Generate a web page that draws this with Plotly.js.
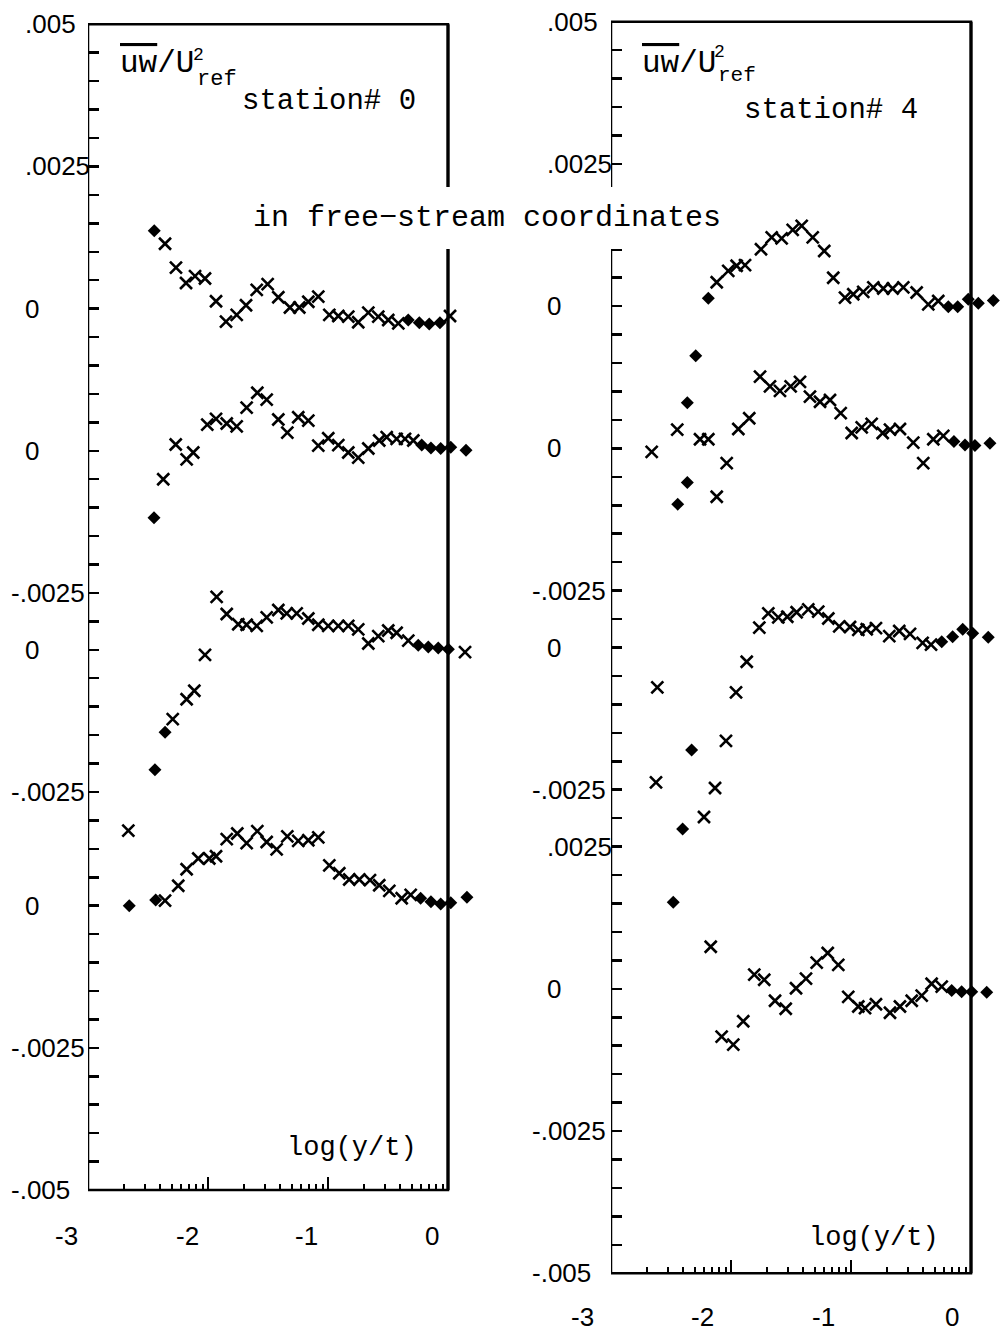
<!DOCTYPE html>
<html>
<head>
<meta charset="utf-8">
<script src="https://cdn.plot.ly/plotly-3.0.1.min.js"></script>
<style>html,body{margin:0;padding:0;background:#fff;}#chart{width:1006px;height:1333px;}</style>
</head>
<body>
<div id="chart"></div>
<script>
// ---------------- DATA (log(y/t) on x, uw/U_ref^2 on y, per profile) ----------------
// Left panel: station# 0
const L1_xc = [-2.358,-2.267,-2.183,-2.108,-2.025,-1.933,-1.850,-1.761,-1.683,-1.594,-1.503,-1.414,-1.317,-1.239,-1.164,-1.081,-0.989,-0.914,-0.831,-0.748,-0.664,-0.581,-0.498,-0.414,0.017];
const L1_vc = [0.00114,0.00072,0.00045,0.00057,0.00053,0.00013,-0.00023,-0.00011,0.00006,0.00033,0.00043,0.00020,0.00002,0.00002,0.00012,0.00021,-0.00011,-0.00013,-0.00014,-0.00024,-0.00007,-0.00014,-0.00020,-0.00026,-0.00013];
const L1_xd = [-2.448,-0.331,-0.239,-0.156,-0.067];
const L1_vd = [0.00137,-0.00020,-0.00025,-0.00027,-0.00025];

const L2_xc = [-2.373,-2.269,-2.178,-2.123,-2.006,-1.933,-1.844,-1.761,-1.678,-1.589,-1.511,-1.414,-1.339,-1.248,-1.164,-1.081,-0.998,-0.914,-0.831,-0.748,-0.664,-0.573,-0.511,-0.428,-0.358,-0.289];
const L2_vc = [-0.00050,0.00011,-0.00015,-0.00003,0.00046,0.00056,0.00048,0.00043,0.00076,0.00102,0.00090,0.00055,0.00032,0.00059,0.00053,0.00009,0.00022,0.00010,-0.00003,-0.00012,0.00004,0.00018,0.00024,0.00021,0.00021,0.00018];
const L2_xd = [-2.450,-0.219,-0.142,-0.061,0.023,0.150];
const L2_vd = [-0.00118,0.00010,0.00005,0.00004,0.00006,0.00001];

const L3_xc = [-2.664,-2.294,-2.178,-2.114,-2.025,-1.928,-1.844,-1.748,-1.678,-1.594,-1.511,-1.414,-1.344,-1.261,-1.164,-1.081,-0.998,-0.914,-0.831,-0.748,-0.664,-0.581,-0.498,-0.428,-0.331,0.142];
const L3_vc = [-0.00318,-0.00122,-0.00087,-0.00072,-0.00009,0.00093,0.00063,0.00045,0.00044,0.00042,0.00057,0.00070,0.00064,0.00064,0.00055,0.00044,0.00042,0.00042,0.00042,0.00036,0.00011,0.00024,0.00034,0.00030,0.00016,-0.00004];
const L3_xd = [-2.442,-2.358,-0.248,-0.164,-0.081,0.003];
const L3_vd = [-0.00211,-0.00145,0.00008,0.00005,0.00003,0.00001];

const L4_xc = [-2.358,-2.248,-2.178,-2.081,-1.989,-1.933,-1.844,-1.756,-1.678,-1.589,-1.511,-1.428,-1.339,-1.248,-1.164,-1.081,-0.989,-0.906,-0.823,-0.739,-0.650,-0.573,-0.489,-0.386,-0.311];
const L4_vc = [0.00009,0.00035,0.00064,0.00083,0.00083,0.00087,0.00117,0.00127,0.00110,0.00131,0.00112,0.00099,0.00122,0.00114,0.00115,0.00120,0.00071,0.00057,0.00046,0.00046,0.00045,0.00036,0.00026,0.00013,0.00019];
const L4_xd = [-2.656,-2.436,-0.228,-0.142,-0.061,0.023,0.158];
const L4_vd = [0.00000,0.00010,0.00013,0.00007,0.00003,0.00005,0.00015];

// Right panel: station# 4
const R1_xc = [-2.119,-2.023,-1.953,-1.883,-1.750,-1.661,-1.578,-1.486,-1.411,-1.319,-1.223,-1.148,-1.050,-0.981,-0.898,-0.814,-0.731,-0.653,-0.564,-0.453,-0.356,-0.273];
const R1_vc = [0.00042,0.00062,0.00071,0.00072,0.00100,0.00121,0.00119,0.00134,0.00141,0.00121,0.00097,0.00050,0.00015,0.00021,0.00025,0.00033,0.00031,0.00031,0.00033,0.00024,0.00003,0.00009];
const R1_xd = [-2.189,-0.189,-0.111,-0.023,0.061,0.186];
const R1_vd = [0.00014,-0.00001,-0.00001,0.00012,0.00005,0.00010];

const R2_xc = [-2.661,-2.448,-2.258,-2.189,-2.119,-2.036,-1.939,-1.848,-1.758,-1.675,-1.592,-1.503,-1.425,-1.342,-1.258,-1.175,-1.086,-0.994,-0.911,-0.828,-0.736,-0.675,-0.592,-0.481,-0.398,-0.314,-0.231];
const R2_vc = [-0.00006,0.00033,0.00016,0.00016,-0.00085,-0.00026,0.00034,0.00053,0.00126,0.00109,0.00101,0.00109,0.00117,0.00091,0.00082,0.00085,0.00062,0.00027,0.00037,0.00043,0.00027,0.00033,0.00034,0.00010,-0.00026,0.00016,0.00022];
const R2_xd = [-2.444,-2.364,-2.364,-2.294,-0.142,-0.050,0.033,0.158];
const R2_vd = [-0.00098,0.00080,-0.00060,0.00163,0.00012,0.00006,0.00005,0.00009];

const R3_xc = [-2.625,-2.614,-2.225,-2.133,-2.042,-1.958,-1.869,-1.764,-1.689,-1.606,-1.531,-1.453,-1.356,-1.273,-1.189,-1.098,-1.008,-0.939,-0.869,-0.792,-0.681,-0.598,-0.508,-0.403,-0.333];
const R3_vc = [-0.00237,-0.00070,-0.00298,-0.00247,-0.00164,-0.00079,-0.00025,0.00035,0.00060,0.00053,0.00054,0.00062,0.00067,0.00063,0.00051,0.00037,0.00036,0.00031,0.00032,0.00034,0.00020,0.00029,0.00024,0.00008,0.00005];
const R3_xd = [-2.403,-2.328,-0.244,-0.153,-0.069,0.014,0.144];
const R3_vd = [-0.00319,-0.00180,0.00010,0.00019,0.00032,0.00025,0.00018];

const R4_xc = [-2.169,-2.078,-1.981,-1.898,-1.806,-1.723,-1.633,-1.544,-1.458,-1.375,-1.286,-1.194,-1.106,-1.023,-0.939,-0.883,-0.792,-0.675,-0.592,-0.494,-0.411,-0.328,-0.244];
const R4_vc = [0.00074,-0.00084,-0.00098,-0.00057,0.00025,0.00016,-0.00021,-0.00035,0.00001,0.00018,0.00046,0.00063,0.00042,-0.00014,-0.00031,-0.00034,-0.00027,-0.00042,-0.00031,-0.00021,-0.00012,0.00009,0.00004];
const R4_xd = [-2.481,-0.161,-0.078,0.006,0.131];
const R4_vd = [0.00152,-0.00003,-0.00005,-0.00005,-0.00006];

// Vertical offsets of the stacked profiles (zero line of each profile)
const L_offsets = [0, -0.0025, -0.006, -0.0105];
const R_offsets = [0, -0.0025, -0.006, -0.012];

// Y tick labels (stacked axes)
const L_tickvals = [0.005, 0.0025, 0, -0.0025, -0.005, -0.006, -0.0085, -0.0105, -0.013, -0.0155];
const L_ticktext = ['.005', '.0025', '0', '0', '-.0025', '0', '-.0025', '0', '-.0025', '-.005'];
const R_tickvals = [0.005, 0.0025, 0, -0.0025, -0.005, -0.006, -0.0085, -0.0095, -0.012, -0.0145, -0.017];
const R_ticktext = ['.005', '.0025', '0', '0', '-.0025', '0', '-.0025', '.0025', '0', '-.0025', '-.005'];
// X tick labels
const X_ticktext = ['-3', '-2', '-1', '0'];

// ---------------- BUILD ----------------
const W = 1006, H = 1333;
const px = v => v / W, py = v => 1 - v / H;

const crossMarker = {symbol: 'x-thin', size: 12, color: '#000', line: {width: 2.6, color: '#000'}};
const diamMarker = {symbol: 'diamond', size: 10, color: '#000', line: {width: 0}};

function addProfile(traces, xc, vc, xd, vd, off, xa, ya) {
  traces.push({x: xc, y: vc.map(v => v + off), type: 'scatter', mode: 'markers', marker: crossMarker,
               xaxis: xa, yaxis: ya, cliponaxis: false, showlegend: false, hoverinfo: 'x+y'});
  traces.push({x: xd, y: vd.map(v => v + off), type: 'scatter', mode: 'markers', marker: diamMarker,
               xaxis: xa, yaxis: ya, cliponaxis: false, showlegend: false, hoverinfo: 'x+y'});
}
const traces = [];
const Lset = [[L1_xc,L1_vc,L1_xd,L1_vd],[L2_xc,L2_vc,L2_xd,L2_vd],[L3_xc,L3_vc,L3_xd,L3_vd],[L4_xc,L4_vc,L4_xd,L4_vd]];
const Rset = [[R1_xc,R1_vc,R1_xd,R1_vd],[R2_xc,R2_vc,R2_xd,R2_vd],[R3_xc,R3_vc,R3_xd,R3_vd],[R4_xc,R4_vc,R4_xd,R4_vd]];
Lset.forEach((s, i) => addProfile(traces, s[0], s[1], s[2], s[3], L_offsets[i], 'x', 'y'));
Rset.forEach((s, i) => addProfile(traces, s[0], s[1], s[2], s[3], R_offsets[i], 'x2', 'y2'));

// log-style minor tick positions within each decade
const minorVals = [];
[-3, -2, -1].forEach(d => { for (let k = 2; k <= 9; k++) minorVals.push(d + Math.log10(k)); });

// x range runs a little past 0 so that the outer points (drawn beyond the frame in the original) stay visible
const xCommon = {
  range: [-3, 0.25], showgrid: false, zeroline: false, showline: false,
  ticks: 'inside', tickvals: [-2, -1], ticklen: 13, tickwidth: 2, tickcolor: '#000',
  showticklabels: false, fixedrange: true,
  minor: {tickvals: minorVals, ticks: 'inside', ticklen: 6, tickwidth: 2, tickcolor: '#000'}
};
const yCommon = {
  showgrid: false, zeroline: false, showline: false,
  ticks: 'inside', tick0: 0.005, dtick: 0.0005, ticklen: 11, tickwidth: 2.5, tickcolor: '#000',
  showticklabels: false, fixedrange: true
};

const layout = {
  width: W, height: H, margin: {l: 0, r: 0, t: 0, b: 0, pad: 0},
  paper_bgcolor: '#fff', plot_bgcolor: '#fff', showlegend: false,
  xaxis: Object.assign({}, xCommon, {domain: [px(88), px(478)], anchor: 'y'}),
  yaxis: Object.assign({}, yCommon, {domain: [py(1190), py(24.3)], range: [-0.0155, 0.005], anchor: 'x'}),
  xaxis2: Object.assign({}, xCommon, {domain: [px(611), px(1001)], anchor: 'y2'}),
  yaxis2: Object.assign({}, yCommon, {domain: [py(1273.3), py(21.7)], range: [-0.017, 0.005], anchor: 'x2'}),
  shapes: [
    {type: 'rect', xref: 'x', yref: 'y domain', x0: -3, x1: 0, y0: 0, y1: 1, line: {color: '#000', width: 2.5}, layer: 'above'},
    {type: 'line', xref: 'x', yref: 'y domain', x0: 0, x1: 0, y0: 0, y1: 1, line: {color: '#000', width: 3.2}, layer: 'above'},
    {type: 'rect', xref: 'x2', yref: 'y2 domain', x0: -3, x1: 0, y0: 0, y1: 1, line: {color: '#000', width: 2.5}, layer: 'above'},
    {type: 'line', xref: 'x2', yref: 'y2 domain', x0: 0, x1: 0, y0: 0, y1: 1, line: {color: '#000', width: 3.2}, layer: 'above'}
  ],
  annotations: []
};

const tickFont = {family: 'Liberation Sans, Arial, sans-serif', size: 26, color: '#000'};
const serif = (s) => ({family: 'Liberation Mono, Courier New, monospace', size: s, color: '#000'});
const A = layout.annotations;

// y tick labels (left-aligned in a sign column, as in the original)
L_tickvals.forEach((v, i) => {
  const t = L_ticktext[i];
  A.push({xref: 'paper', yref: 'y', x: px(t[0] === '-' ? 9 : 23), y: v, text: t, showarrow: false,
          xanchor: 'left', yanchor: 'middle', font: tickFont});
});
R_tickvals.forEach((v, i) => {
  const t = R_ticktext[i];
  A.push({xref: 'paper', yref: 'y2', x: px(t[0] === '-' ? 530 : 545), y: v, text: t, showarrow: false,
          xanchor: 'left', yanchor: 'middle', font: tickFont});
});
// x tick labels (drawn slightly left of the decade ticks, as in the original)
const LxPos = [66, 187, 306, 432], RxPos = [582, 702, 823, 952];
X_ticktext.forEach((t, i) => {
  A.push({xref: 'paper', yref: 'paper', x: px(LxPos[i]), y: py(1236), text: t, showarrow: false,
          xanchor: 'center', yanchor: 'middle', font: tickFont});
  A.push({xref: 'paper', yref: 'paper', x: px(RxPos[i]), y: py(1317), text: t, showarrow: false,
          xanchor: 'center', yanchor: 'middle', font: tickFont});
});

// Titles / labels
function label(text, x, y, size, xanchor) {
  A.push({xref: 'paper', yref: 'paper', x: px(x), y: py(y), text: text, showarrow: false,
          xanchor: xanchor || 'center', yanchor: 'middle', font: serif(size)});
}
const uwText = '<span style="text-decoration:overline">uw</span>/U';
label(uwText, 118, 64, 31, 'left');
label('2', 191, 55, 18, 'left');
label('ref', 195, 80, 22, 'left');
label('station# 0', 329, 102, 29);
label(uwText, 640, 64, 31, 'left');
label('2', 712, 52, 18, 'left');
label('ref', 716, 75, 21, 'left');
label('station# 4', 831, 110, 29);
label('log(y/t)', 352, 1148, 27);
label('log(y/t)', 874, 1238, 27);
A.push({xref: 'paper', yref: 'paper', x: px(487), y: py(218), text: 'in free\u2212stream coordinates',
        showarrow: false, xanchor: 'center', yanchor: 'middle', font: serif(30),
        bgcolor: '#fff', borderpad: 14, borderwidth: 0});

Plotly.newPlot('chart', traces, layout, {staticPlot: true, displayModeBar: false});
</script>
</body>
</html>
